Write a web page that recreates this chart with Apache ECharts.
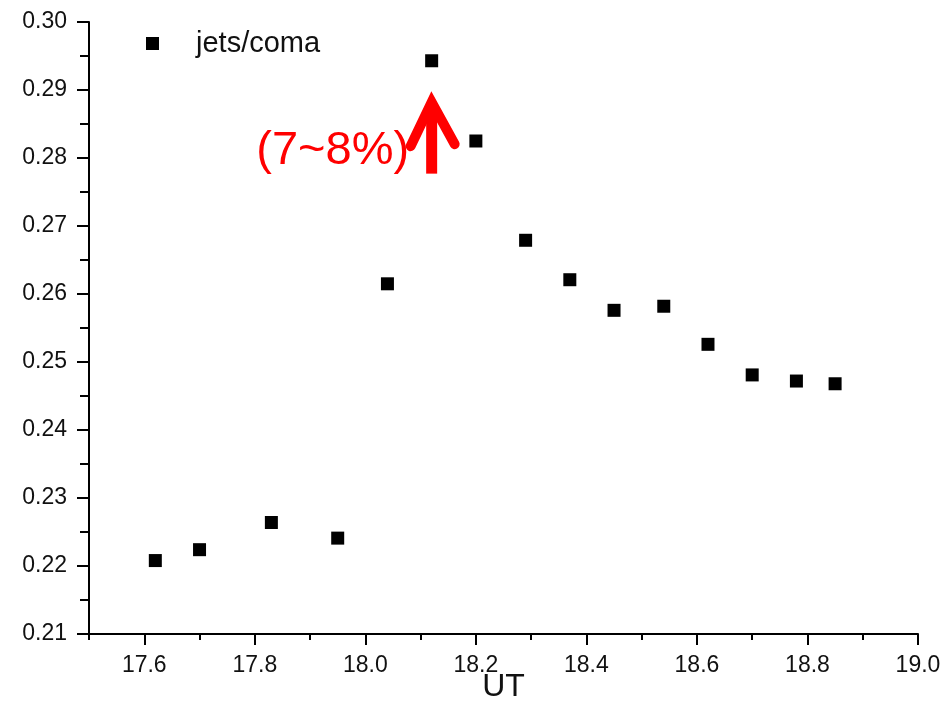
<!DOCTYPE html>
<html>
<head>
<meta charset="utf-8">
<script src="https://cdn.jsdelivr.net/npm/echarts@6/dist/echarts.min.js"></script>
<style>
  html, body { margin: 0; padding: 0; background: #fff; }
  #chart { width: 944px; height: 726px; }
</style>
</head>
<body>
<div id="chart"></div>
<script>
// Universal time (hours) of each observation
const utHours = [17.62, 17.70, 17.83, 17.95, 18.04, 18.12, 18.20, 18.29, 18.37, 18.45, 18.54, 18.62, 18.70, 18.78, 18.85];
// Jet-to-coma brightness ratio
const jetsComaRatio = [0.2208, 0.2224, 0.2264, 0.2241, 0.2615, 0.2943, 0.2825, 0.2679, 0.2621, 0.2576, 0.2582, 0.2526, 0.2481, 0.2472, 0.2468];
// Labelled (major) UT ticks
const utMajorTicks = [17.6, 17.8, 18.0, 18.2, 18.4, 18.6, 18.8, 19.0];

const seriesName = 'jets/coma';
const xAxisName = 'UT';
const annotationText = '(7~8%)';
// Arrow annotation anchors (data space): tip and tail of the upward arrow
const arrowTip = [18.12, 0.2888];
const arrowTail = [18.12, 0.2777];
const annotationAnchor = [17.941, 0.2810];

const FONT = '"Liberation Sans", Arial, sans-serif';
const chart = echarts.init(document.getElementById('chart'), null, { renderer: 'canvas' });

const points = utHours.map((x, i) => [x, jetsComaRatio[i]]);

const axisColor = '#000';
chart.setOption({
  animation: false,
  backgroundColor: '#ffffff',
  grid: { left: 89, right: 26, top: 22, bottom: 92, containLabel: false },
  legend: {
    left: 141, top: 24,
    itemWidth: 13, itemHeight: 13,
    icon: 'rect',
    data: [seriesName],
    textStyle: { fontFamily: FONT, fontSize: 29, color: '#111', padding: [0, 0, 0, 32] }
  },
  xAxis: [
    {
      // minor ticks every 0.1 h, axis line, name and labels
      type: 'value',
      min: 17.5, max: 19.0, interval: 0.1,
      name: xAxisName, nameLocation: 'middle', nameGap: 37,
      nameMoveOverlap: false,
      nameTextStyle: { fontFamily: FONT, fontSize: 32, color: '#111' },
      axisLine: { lineStyle: { color: axisColor, width: 2 } },
      axisTick: { show: true, inside: false, length: 6, lineStyle: { color: axisColor, width: 2 } },
      splitLine: { show: false },
      axisLabel: {
        fontFamily: FONT, fontSize: 23, color: '#111', margin: 20,
        customValues: utMajorTicks,
        formatter: v => v.toFixed(1)
      }
    },
    {
      // long major ticks every 0.2 h
      type: 'value',
      position: 'bottom',
      min: 17.5, max: 19.0,
      axisLine: { show: false },
      axisTick: { show: true, inside: false, length: 11, customValues: utMajorTicks, lineStyle: { color: axisColor, width: 2 } },
      axisLabel: { show: false },
      splitLine: { show: false }
    }
  ],
  yAxis: {
    type: 'value',
    min: 0.21, max: 0.30, interval: 0.01,
    axisLine: { show: true, lineStyle: { color: axisColor, width: 2 } },
    axisTick: { show: true, inside: false, length: 12, lineStyle: { color: axisColor, width: 2 } },
    minorTick: { show: true, splitNumber: 2, length: 9, lineStyle: { color: axisColor, width: 2 } },
    splitLine: { show: false },
    axisLabel: {
      fontFamily: FONT, fontSize: 23, color: '#111', margin: 22,
      formatter: v => v.toFixed(2)
    }
  },
  series: [{
    name: seriesName,
    type: 'scatter',
    xAxisIndex: 0,
    symbol: 'rect',
    symbolSize: 13,
    itemStyle: { color: '#000', opacity: 1 },
    data: points
  }]
});

// Red arrow and percentage label, placed from data-space anchors
function drawAnnotation() {
  const tip = chart.convertToPixel({ gridIndex: 0 }, arrowTip);
  const tail = chart.convertToPixel({ gridIndex: 0 }, arrowTail);
  const txt = chart.convertToPixel({ gridIndex: 0 }, annotationAnchor);
  const red = '#ff0000';
  chart.setOption({
    graphic: [
      {
        type: 'line', z: 100,
        shape: { x1: tail[0], y1: tail[1], x2: tip[0], y2: tip[1] + 6 },
        style: { stroke: red, lineWidth: 11, lineCap: 'butt' }
      },
      {
        type: 'polyline', z: 100,
        shape: { points: [[tip[0] - 21, tip[1] + 48], [tip[0], tip[1] + 4], [tip[0] + 23, tip[1] + 46]] },
        style: { stroke: red, fill: null, lineWidth: 10, lineCap: 'round', lineJoin: 'miter' }
      },
      {
        type: 'text', z: 100,
        x: txt[0], y: txt[1],
        style: {
          text: annotationText, fill: red, font: '47px ' + FONT,
          align: 'center', verticalAlign: 'middle'
        }
      }
    ]
  });
}
drawAnnotation();
</script>
</body>
</html>
